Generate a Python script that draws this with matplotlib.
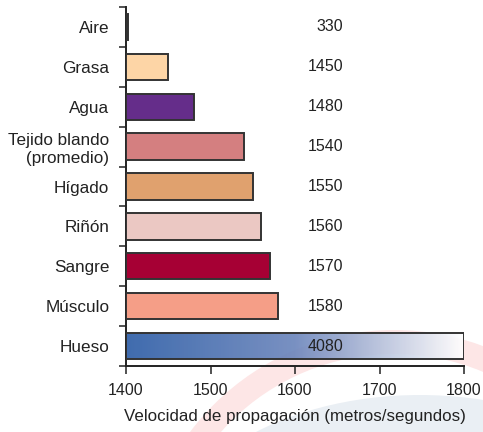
import numpy as np
import matplotlib.pyplot as plt
from matplotlib.colors import LinearSegmentedColormap
from matplotlib.patches import Ellipse, Wedge

plt.rcParams['font.family'] = ['Liberation Sans', 'DejaVu Sans']

tejidos = ['Aire', 'Grasa', 'Agua', 'Tejido blando\n(promedio)', 'Hígado',
           'Riñón', 'Sangre', 'Músculo', 'Hueso']
velocidad = [330, 1450, 1480, 1540, 1550, 1560, 1570, 1580, 4080]
etiquetas = ['330', '1450', '1480', '1540', '1550', '1560', '1570', '1580', '4080']
colores = ['#2b2b2b', '#fdd5a6', '#652d8a', '#d47f80', '#e0a16e',
           '#ebc8c3', '#a60034', '#f59e87', 'none']

x_min, x_max = 1400, 1800
alto = 0.66
borde = '#333333'

fig = plt.figure(figsize=(4.83, 4.32), dpi=100)

# logo tenue de fondo
fig.patches.append(Ellipse((420, 432 - 560), 520, 330, transform=None,
                           facecolor='#eaeff4', edgecolor='none', zorder=0))
fig.patches.append(Wedge((394, 432 - 585), 255, 0, 180, width=24,
                         transform=None, facecolor='#fde6e6', edgecolor='none', zorder=0))

ax = fig.add_axes([126 / 483, 1 - 366 / 432, 338 / 483, 359 / 432])
ax.set_zorder(2)
ax.patch.set_alpha(0)

y = np.arange(len(tejidos))
# el aire (330) queda por debajo del eje: solo asoma una franja junto al eje
largo = np.clip(velocidad, x_min + 2, x_max) - x_min
barras = ax.barh(y, largo, left=x_min, height=alto, color=colores,
                 edgecolor=borde, linewidth=1.4, zorder=3)

# hueso con degradado azul a blanco
grad = LinearSegmentedColormap.from_list('hueso', ['#2a5ba5', '#6a84bb', '#ffffff'])
i = len(tejidos) - 1
img = ax.imshow(np.linspace(0, 1, 256)[None, :], cmap=grad, aspect='auto', alpha=0.9,
                extent=[x_min, x_min + largo[i], i + alto / 2, i - alto / 2], zorder=2)
img.set_clip_path(barras[i])

for yi, txt in zip(y, etiquetas):
    ax.text(1657, yi, txt, ha='right', va='center', fontsize=11.5, color='#222222', zorder=4)

ax.set_xlim(x_min, x_max)
ax.set_ylim(len(tejidos) - 0.5, -0.5)
ax.set_xticks([1400, 1500, 1600, 1700, 1800])
ax.set_yticks(y)
ax.set_yticklabels(tejidos)
ax.set_yticks(np.arange(-0.5, len(tejidos)), minor=True)
ax.tick_params(axis='y', which='major', length=0, pad=12, labelsize=12.3, colors='#222222')
ax.tick_params(axis='y', which='minor', length=5, width=1.1, color='#222222')
ax.tick_params(axis='x', length=6, width=1.1, pad=6, labelsize=11.5, colors='#222222')
for lado in ['top', 'right']:
    ax.spines[lado].set_visible(False)
for lado in ['left', 'bottom']:
    ax.spines[lado].set_linewidth(1.4)
    ax.spines[lado].set_color('#222222')
for t in ax.get_yticklabels():
    t.set_multialignment('right')

ax.set_xlabel('Velocidad de propagación (metros/segundos)', fontsize=12.2,
              color='#222222', labelpad=8)

fig.savefig('out.png', dpi=100)
